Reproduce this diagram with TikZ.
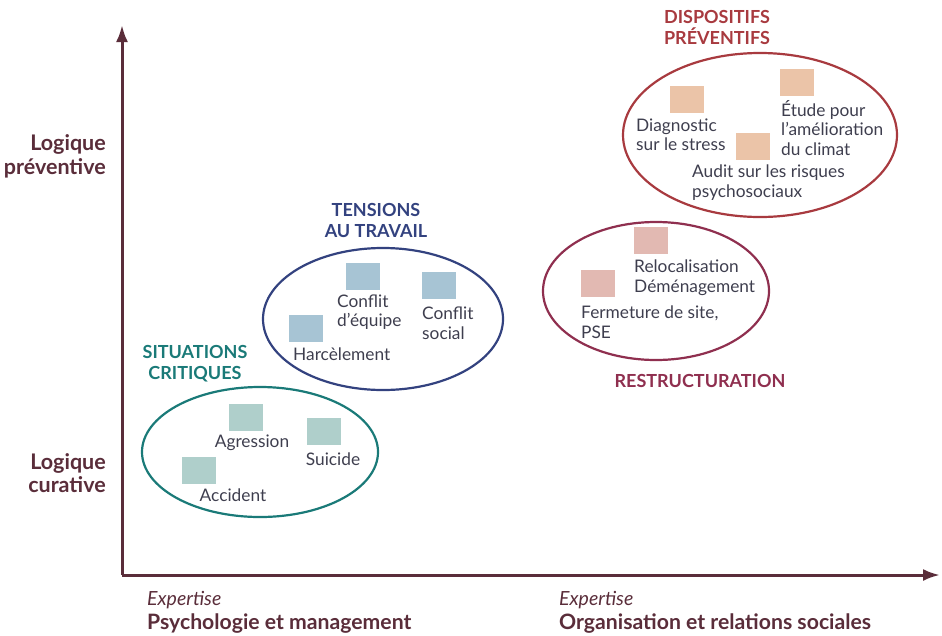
\documentclass[tikz,border=0pt]{standalone}
\usepackage{fontspec}
\setmainfont{Lato}
\usetikzlibrary{arrows.meta}
\definecolor{axiscol}{HTML}{5A2D3A}
\definecolor{txtcol}{HTML}{3E3E4E}
\definecolor{tealc}{HTML}{1A7A78}
\definecolor{tealsq}{HTML}{AFCFCB}
\definecolor{bluec}{HTML}{33427F}
\definecolor{bluesq}{HTML}{A7C4D4}
\definecolor{restc}{HTML}{8F2F4F}
\definecolor{restsq}{HTML}{E2B9B2}
\definecolor{dispc}{HTML}{A83A3F}
\definecolor{dispsq}{HTML}{EBC4A8}
\begin{document}
\begin{tikzpicture}[x=1pt,y=-1pt,
  sq/.style={minimum width=34pt,minimum height=27pt,inner sep=0pt,outer sep=0pt},
  item/.style={text=txtcol,font=\fontsize{17.3}{19.5}\selectfont,align=left,inner sep=0pt},
  title/.style={font=\bfseries\fontsize{18}{21}\selectfont,align=center,inner sep=0pt},
  axlab/.style={text=axiscol,font=\bfseries\fontsize{21.5}{23.5}\selectfont,align=right,inner sep=0pt},
  xlab/.style={text=axiscol,font=\fontsize{21.2}{24}\selectfont,align=left,inner sep=0pt,anchor=west},
  grp/.style={line width=2.2pt}]
\useasboundingbox (0,0) rectangle (942,635);
% axes
\coordinate (O) at (122,575);
\coordinate (ytip) at (122,25);
\coordinate (xtip) at (940,575);
\draw[axiscol,line width=3pt,-{Latex[length=17pt,width=12pt]}] (O) -- (ytip);
\draw[axiscol,line width=3pt,-{Latex[length=17pt,width=12pt]}] (O) -- (xtip);
\node[axlab,anchor=east] (lprev) at (106,156.5) {Logique\\préventive};
\node[axlab,anchor=east] (lcur) at (106,473) {Logique\\curative};
\node[xlab] (x1) at (147,612) {{\itshape\fontsize{19.5}{24}\selectfont Expertise}\\\bfseries Psychologie et management};
\node[xlab] (x2) at (559,612) {{\itshape\fontsize{19.5}{24}\selectfont Expertise}\\\bfseries Organisation et relations sociales};
% situations critiques
\draw[grp,tealc] (260,452) ellipse [x radius=118,y radius=65];
\node[title,text=tealc] (tsit) at (195,363.5) {SITUATIONS\\CRITIQUES};
\node[sq,fill=tealsq] (sagr) at (246,417.5) {};
\node[item] (tagr) at (252,443) {Agression};
\node[sq,fill=tealsq] (ssui) at (324,431.5) {};
\node[item] (tsui) at (333,459) {Suicide};
\node[sq,fill=tealsq] (sacc) at (199,470.5) {};
\node[item] (tacc) at (233,495) {Accident};
% tensions
\draw[grp,bluec] (383,319) ellipse [x radius=120,y radius=71];
\node[title,text=bluec] (tten) at (376,220.5) {TENSIONS\\AU TRAVAIL};
\node[sq,fill=bluesq] (seq) at (363,276.5) {};
\node[item,anchor=west] (teq) at (337,312) {Conflit\\d’équipe};
\node[sq,fill=bluesq] (ssoc) at (439,285.5) {};
\node[item,anchor=west] (tsoc) at (422,323) {Conflit\\social};
\node[sq,fill=bluesq] (shar) at (306,328.5) {};
\node[item,anchor=west] (thar) at (293,354) {Harcèlement};
% restructuration
\draw[grp,restc] (656,291) ellipse [x radius=113,y radius=69];
\node[title,text=restc] (tres) at (700,381) {RESTRUCTURATION};
\node[sq,fill=restsq] (sreloc) at (651,240.5) {};
\node[item,anchor=west] (treloc) at (634,277.5) {Relocalisation\\Déménagement};
\node[sq,fill=restsq] (sferm) at (598,283.5) {};
\node[item,anchor=west] (tferm) at (581,322) {Fermeture de site,\\PSE};
% dispositifs preventifs
\draw[grp,dispc] (760,135) ellipse [x radius=137,y radius=82];
\node[title,text=dispc] (tdisp) at (717,27.5) {DISPOSITIFS\\PRÉVENTIFS};
\node[sq,fill=dispsq] (sdiag) at (687,99.5) {};
\node[item,anchor=west] (tdiag) at (636,134.5) {Diagnostic\\sur le stress};
\node[sq,fill=dispsq] (setu) at (797,82.5) {};
\node[item,anchor=west] (tetu) at (781,128) {Étude pour\\l’amélioration\\du climat};
\node[sq,fill=dispsq] (saud) at (753,146.5) {};
\node[item,anchor=west] (taud) at (692,182.5) {Audit sur les risques\\psychosociaux};
\end{tikzpicture}
\end{document}
